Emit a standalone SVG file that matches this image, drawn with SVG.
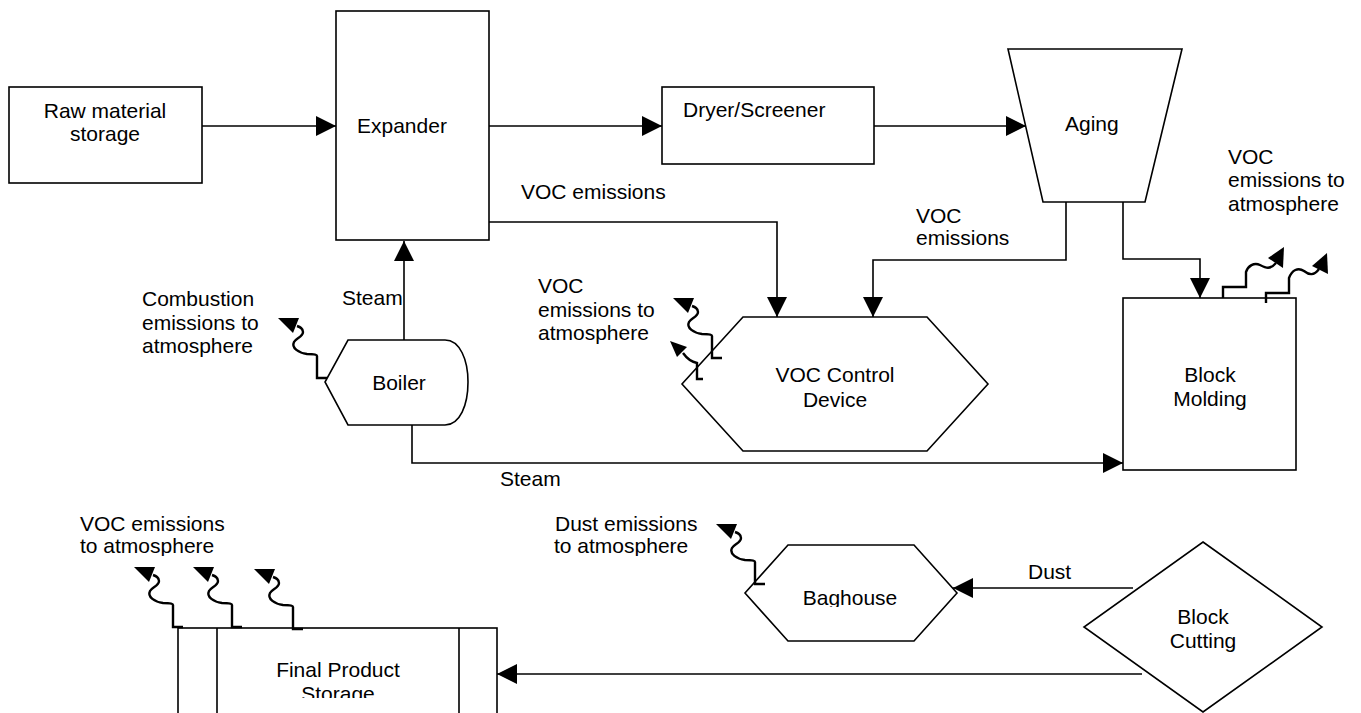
<svg xmlns="http://www.w3.org/2000/svg" xmlns:xlink="http://www.w3.org/1999/xlink" width="1361" height="713" viewBox="0 0 1361 713">
<style>
.s{fill:#fff;stroke:#000;stroke-width:1.6}
.c{fill:none;stroke:#000;stroke-width:1.6}
.wv{fill:none;stroke:#000;stroke-width:2.4}
.t{font-family:"Liberation Sans",Arial,sans-serif;font-size:21px;fill:#000}
.m{text-anchor:middle}
</style>
<defs>
<marker id="ah" markerUnits="userSpaceOnUse" markerWidth="20" markerHeight="20" refX="20" refY="10" orient="auto" viewBox="0 0 20 20">
<path d="M0,0 L20,10 L0,20 Z" fill="#000"/>
</marker>
<g id="wave">
<path class="wv" d="M0,0 H-10 V-22 C-10,-24 -16,-24 -20,-24 C-28,-25 -36,-30 -33,-36 C-31,-40 -24,-41 -24,-46 C-24,-50 -27,-51 -30,-52"/>
<polygon points="-49,-60 -28,-60 -34,-45" fill="#000"/>
</g>
<clipPath id="clipTop"><rect x="0" y="0" width="1361" height="556"/></clipPath>
<clipPath id="clipBag"><rect x="0" y="0" width="1361" height="607"/></clipPath>
<clipPath id="clipSto"><rect x="0" y="0" width="1361" height="698"/></clipPath>
</defs>
<rect width="1361" height="713" fill="#fff"/>

<g id="connectors">
<path class="c" d="M202,126 H336" marker-end="url(#ah)"/>
<path class="c" d="M489,126 H662" marker-end="url(#ah)"/>
<path class="c" d="M874,126 H1026" marker-end="url(#ah)"/>
<path class="c" d="M489,222 H777 V317" marker-end="url(#ah)"/>
<path class="c" d="M1066,202 V260 H873 V317" marker-end="url(#ah)"/>
<path class="c" d="M1123,202 V259 H1200 V298" marker-end="url(#ah)"/>
<path class="c" d="M404,340 V241" marker-end="url(#ah)"/>
<path class="c" d="M412,425 V463 H1123" marker-end="url(#ah)"/>
<path class="c" d="M1133,588 H953" marker-end="url(#ah)"/>
<path class="c" d="M1142,674 H497" marker-end="url(#ah)"/>
</g>

<g id="raw-material-storage">
<rect class="s" x="9" y="87" width="193" height="96"/>
<text class="t m" x="105" y="118">Raw material</text>
<text class="t m" x="105" y="141">storage</text>
</g>

<g id="expander">
<rect class="s" x="336" y="11" width="153" height="229"/>
<text class="t" x="357" y="133">Expander</text>
</g>

<g id="dryer-screener">
<rect class="s" x="662" y="87" width="212" height="77"/>
<text class="t" x="683" y="117">Dryer/Screener</text>
</g>

<g id="aging">
<polygon class="s" points="1008,49 1182,49 1145,202 1043,202"/>
<text class="t" x="1065" y="131">Aging</text>
</g>

<g id="boiler">
<path class="s" d="M348,340 H445 C460,340 468,360 468,382 C468,405 460,425 445,425 H348 L325,382 Z"/>
<text class="t m" x="399" y="390">Boiler</text>
</g>

<g id="voc-control-device">
<polygon class="s" points="743,317 927,317 988,384 927,451 743,451 682,384"/>
<text class="t m" x="835" y="382">VOC Control</text>
<text class="t m" x="835" y="407">Device</text>
</g>

<g id="block-molding">
<rect class="s" x="1123" y="298" width="173" height="172"/>
<text class="t m" x="1210" y="382">Block</text>
<text class="t m" x="1210" y="406">Molding</text>
</g>

<g id="baghouse">
<polygon class="s" points="788,545 914,545 957,593 914,641 788,641 745,593"/>
<text class="t m" x="850" y="605" clip-path="url(#clipBag)">Baghouse</text>
</g>

<g id="block-cutting">
<polygon class="s" points="1203,542 1322,627 1203,712 1084,627"/>
<text class="t m" x="1203" y="624">Block</text>
<text class="t m" x="1203" y="648">Cutting</text>
</g>

<g id="final-product-storage">
<rect class="s" x="178" y="628" width="319" height="100"/>
<path class="c" d="M217,628 V720 M459,628 V720"/>
<text class="t m" x="338" y="677">Final Product</text>
<text class="t m" x="338" y="701" clip-path="url(#clipSto)">Storage</text>
</g>

<g id="emissions">
<use xlink:href="#wave" x="327" y="378"/>
<use xlink:href="#wave" x="722" y="358"/>
<path class="wv" d="M703,379 H697 V363 C692,362 688,360 683,353"/>
<polygon points="670,341 687,347 677,357" fill="#000"/>
<path class="wv" d="M1223,298 V287 H1246 V272 C1248,266 1254,262 1260,265 C1266,268 1270,270 1276,263"/>
<polygon points="1284,247 1268,258 1283,268" fill="#000"/>
<path class="wv" d="M1266,303 V293 H1289 V278 C1292,270 1298,267 1304,271 C1309,275 1314,276 1319,269"/>
<polygon points="1327,253 1312,266 1328,274" fill="#000"/>
<use xlink:href="#wave" x="765" y="584"/>
<use xlink:href="#wave" x="183" y="627"/>
<use xlink:href="#wave" x="242" y="627"/>
<use xlink:href="#wave" x="303" y="629"/>
</g>

<g id="labels">
<text class="t" x="521" y="199">VOC emissions</text>
<text class="t" x="916" y="223">VOC</text>
<text class="t" x="916" y="245">emissions</text>
<text class="t" x="342" y="305">Steam</text>
<text class="t" x="500" y="486">Steam</text>
<text class="t" x="142" y="306">Combustion</text>
<text class="t" x="142" y="330">emissions to</text>
<text class="t" x="142" y="353">atmosphere</text>
<text class="t" x="538" y="293">VOC</text>
<text class="t" x="538" y="317">emissions to</text>
<text class="t" x="538" y="340">atmosphere</text>
<text class="t" x="1228" y="164">VOC</text>
<text class="t" x="1228" y="187">emissions to</text>
<text class="t" x="1228" y="211">atmosphere</text>
<text class="t" x="1028" y="579">Dust</text>
<text class="t" x="555" y="531">Dust emissions</text>
<text class="t" x="554" y="553" clip-path="url(#clipTop)">to atmosphere</text>
<text class="t" x="80" y="531">VOC emissions</text>
<text class="t" x="80" y="553" clip-path="url(#clipTop)">to atmosphere</text>
</g>
</svg>
